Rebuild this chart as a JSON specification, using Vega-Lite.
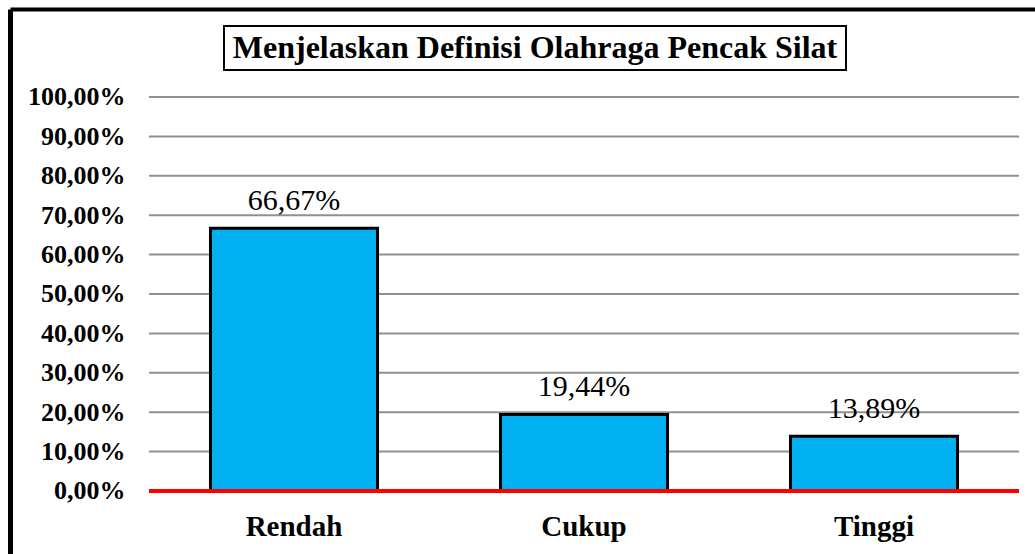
{
  "$schema": "https://vega.github.io/schema/vega-lite/v6.json",
  "width": 1025,
  "height": 545,
  "autosize": {"type": "none"},
  "padding": {"left": 10, "top": 9, "right": 0, "bottom": 0},
  "background": "white",
  "config": {
    "view": {"stroke": null},
    "font": "Liberation Serif",
    "locale": {"number": {"decimal": ",", "thousands": ".", "grouping": [3], "currency": ["", ""]}}
  },
  "resolve": {"scale": {"x": "shared", "y": "shared"}, "axis": {"x": "independent", "y": "independent"}},
  "datasets": {
    "bars": [
      {"kategori": "Rendah", "persen": 0.6667},
      {"kategori": "Cukup", "persen": 0.1944},
      {"kategori": "Tinggi", "persen": 0.1389}
    ],
    "grid": [
      {"v": 0.0}, {"v": 0.1}, {"v": 0.2}, {"v": 0.3}, {"v": 0.4}, {"v": 0.5},
      {"v": 0.6}, {"v": 0.7}, {"v": 0.8}, {"v": 0.9}, {"v": 1.0}
    ],
    "judul": [{"teks": "Menjelaskan Definisi Olahraga Pencak Silat"}]
  },
  "layer": [
    {
      "data": {"name": "grid"},
      "mark": {"type": "rule", "color": "#8f8f8f", "strokeWidth": 2},
      "encoding": {
        "x": {"datum": "Rendah", "type": "nominal", "bandPosition": 0, "axis": null,
              "scale": {"type": "band", "domain": ["Rendah", "Cukup", "Tinggi"], "paddingInner": 0, "paddingOuter": 0.26724, "align": 0.8968}},
        "x2": {"datum": "Tinggi", "bandPosition": 1},
        "y": {
          "field": "v", "type": "quantitative", "title": null,
          "scale": {"domain": [-0.1599, 1.22335], "nice": false, "zero": false},
          "axis": {
            "orient": "left", "values": [0, 0.1, 0.2, 0.3, 0.4, 0.5, 0.6, 0.7, 0.8, 0.9, 1.0],
            "format": ".2%", "grid": false, "ticks": false,
            "domain": true, "domainColor": "black", "domainWidth": 5,
            "labelPadding": -115, "labelAlign": "right", "labelBaseline": "middle",
            "labelFont": "Liberation Serif", "labelFontWeight": "bold", "labelFontSize": 26, "labelColor": "black"
          }
        }
      }
    },
    {
      "data": {"name": "bars"},
      "mark": {"type": "bar", "fill": "#00B0F0", "stroke": "black", "strokeWidth": 3, "width": {"band": 0.576}},
      "encoding": {
        "x": {
          "field": "kategori", "type": "nominal", "sort": null, "title": null,
          "axis": {
            "orient": "bottom", "offset": -63, "domain": false, "ticks": false, "grid": false,
            "labelPadding": 44, "labelBaseline": "alphabetic", "labelAngle": 0,
            "labelFont": "Liberation Serif", "labelFontWeight": "bold", "labelFontSize": 29, "labelColor": "black"
          }
        },
        "y": {"field": "persen", "type": "quantitative", "axis": null},
        "y2": {"datum": 0}
      }
    },
    {
      "data": {"name": "bars"},
      "mark": {"type": "rule", "color": "#ff0000", "strokeWidth": 4},
      "encoding": {
        "x": {"datum": "Rendah", "type": "nominal", "bandPosition": 0, "axis": null},
        "x2": {"datum": "Tinggi", "bandPosition": 1},
        "y": {"datum": 0, "type": "quantitative", "axis": null}
      }
    },
    {
      "data": {"name": "bars"},
      "mark": {"type": "text", "font": "Liberation Serif", "fontSize": 30, "color": "black", "baseline": "alphabetic", "align": "center", "dy": -18},
      "encoding": {
        "x": {
          "field": "kategori", "type": "nominal", "sort": null,
          "axis": {"orient": "top", "labels": false, "ticks": false, "grid": false, "title": null,
                   "domain": true, "domainColor": "black", "domainWidth": 4}
        },
        "y": {"field": "persen", "type": "quantitative", "axis": null},
        "text": {"field": "persen", "type": "quantitative", "format": ".2%"}
      }
    },
    {
      "data": {"name": "judul"},
      "mark": {"type": "rect", "fill": "white", "stroke": "black", "strokeWidth": 2},
      "encoding": {
        "x": {"datum": "Rendah", "type": "nominal", "bandPosition": 0.2586, "axis": null},
        "x2": {"datum": "Tinggi", "bandPosition": 0.4034},
        "y": {"datum": 1.1802, "type": "quantitative", "axis": null},
        "y2": {"datum": 1.0685}
      }
    },
    {
      "data": {"name": "judul"},
      "mark": {"type": "text", "font": "Liberation Serif", "fontWeight": "bold", "fontSize": 32, "color": "black", "baseline": "middle", "align": "center"},
      "encoding": {
        "x": {"datum": "Cukup", "type": "nominal", "bandPosition": 0.331, "axis": null},
        "y": {"datum": 1.1244, "type": "quantitative", "axis": null},
        "text": {"field": "teks", "type": "nominal"}
      }
    }
  ]
}
